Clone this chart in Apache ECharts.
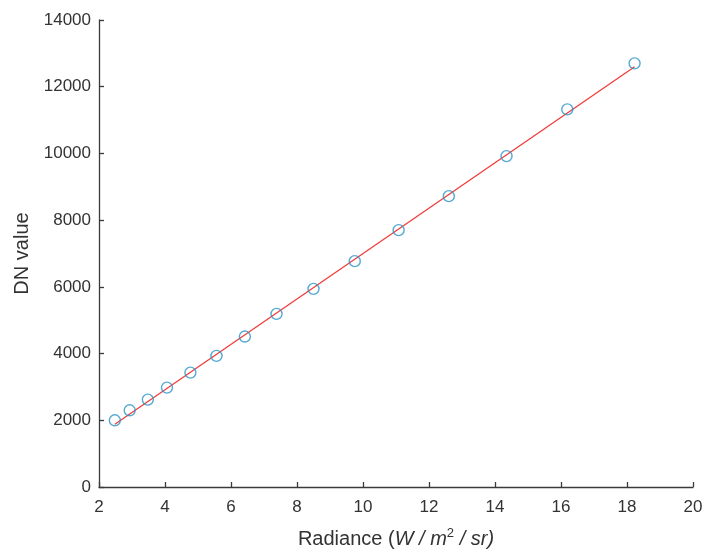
<!DOCTYPE html>
<html>
<head>
<meta charset="utf-8">
<script src="https://cdn.jsdelivr.net/npm/echarts@6/dist/echarts.min.js"></script>
<style>
  html, body { margin: 0; padding: 0; background: #fff; }
  #chart { width: 705px; height: 549px; }
</style>
</head>
<body>
<div id="chart"></div>
<script>
// Measured calibration points: radiance vs. sensor DN
const radiance = [2.48, 2.93, 3.48, 4.06, 4.77, 5.56, 6.42, 7.38, 8.50, 9.75, 11.08, 12.60, 14.35, 16.19, 18.23];
const dnValue  = [2000, 2300, 2620, 2980, 3430, 3930, 4510, 5190, 5940, 6770, 7700, 8720, 9920, 11320, 12700];

// Linear fit line endpoints
const fitRadiance = [2.48, 18.23];
const fitDN       = [1880, 12600];

// Axis ticks
const xTicks = [2, 4, 6, 8, 10, 12, 14, 16, 18, 20];
const yTicks = [0, 2000, 4000, 6000, 8000, 10000, 12000, 14000];

const axisColor = '#3a3a3a';
const textColor = '#333';
const fontFamily = 'Liberation Sans, Arial, sans-serif';

const chart = echarts.init(document.getElementById('chart'), null, { renderer: 'canvas' });

chart.setOption({
  animation: false,
  backgroundColor: '#fff',
  grid: { left: 99, right: 12, top: 20, bottom: 62, containLabel: false, outerBoundsMode: 'none' },
  xAxis: {
    type: 'value',
    min: xTicks[0],
    max: xTicks[xTicks.length - 1],
    interval: 2,
    splitLine: { show: false },
    axisLine: { show: true, onZero: false, lineStyle: { color: axisColor, width: 1.3 } },
    axisTick: { show: true, inside: true, length: 5, lineStyle: { color: axisColor, width: 1.3 } },
    axisLabel: { color: textColor, fontSize: 17, fontFamily, margin: 12, formatter: v => String(v) },
    name: 'Radiance ({i|W / m}{sup|2}{i| / sr)}',
    nameLocation: 'middle',
    nameGap: 40,
    nameTextStyle: {
      color: textColor, fontSize: 20, fontFamily,
      rich: {
        i: { fontStyle: 'italic', fontSize: 20, color: textColor, fontFamily },
        sup: { fontSize: 13, color: textColor, fontFamily, verticalAlign: 'top', padding: [0, 0, 12, 0] }
      }
    }
  },
  yAxis: {
    type: 'value',
    min: yTicks[0],
    max: yTicks[yTicks.length - 1],
    interval: 2000,
    splitLine: { show: false },
    axisLine: { show: true, onZero: false, lineStyle: { color: axisColor, width: 1.3 } },
    axisTick: { show: true, inside: true, length: 5, lineStyle: { color: axisColor, width: 1.3 } },
    axisLabel: { color: textColor, fontSize: 17, fontFamily, margin: 8, formatter: v => String(v) },
    name: 'DN value',
    nameLocation: 'middle',
    nameGap: 66,
    nameRotate: 90,
    nameTextStyle: { color: textColor, fontSize: 20, fontFamily }
  },
  series: [
    {
      type: 'line',
      data: fitRadiance.map((x, i) => [x, fitDN[i]]),
      showSymbol: false,
      symbol: 'none',
      lineStyle: { color: '#f03c3c', width: 1.3 },
      z: 3
    },
    {
      type: 'scatter',
      data: radiance.map((x, i) => [x, dnValue[i]]),
      symbol: 'circle',
      symbolSize: 11,
      itemStyle: { color: 'rgba(0,0,0,0)', borderColor: '#2a94c6', borderWidth: 1.4 },
      z: 4
    }
  ]
});
</script>
</body>
</html>
